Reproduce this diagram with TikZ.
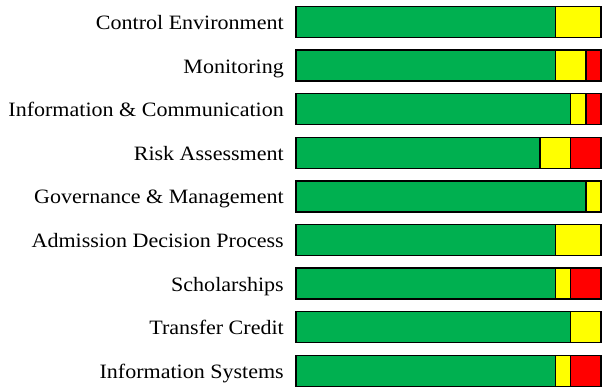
\documentclass[tikz,border=0pt]{standalone}
\usepackage{fontspec}
\setmainfont[FakeStretch=1.08]{Liberation Serif}
\definecolor{verde}{RGB}{0,176,80}
\definecolor{amarillo}{RGB}{255,255,0}
\definecolor{rojo}{RGB}{255,0,0}
\usepackage{tikz}

\begin{document}
\begin{tikzpicture}[x=1pt, y=-1pt,
    seg/.style={draw=black, line width=1.5pt},
    etiqueta/.style={anchor=base east, inner sep=0pt, font=\fontsize{20.4}{24}\selectfont}]
        \useasboundingbox (0,0) rectangle (603,388);

        % Control Environment
        \node[etiqueta] (ctrl) at (284,29.5) {Control Environment};
        \draw[seg, fill=verde] (296,6.5) rectangle (555.25,37.5);
        \draw[seg, fill=amarillo] (555.25,6.5) rectangle (601,37.5);

        % Monitoring
        \node[etiqueta] (moni) at (284,73.1) {Monitoring};
        \draw[seg, fill=verde] (296,50.1) rectangle (555.25,81.1);
        \draw[seg, fill=amarillo] (555.25,50.1) rectangle (585.75,81.1);
        \draw[seg, fill=rojo] (585.75,50.1) rectangle (601,81.1);

        % Information & Communication
        \node[etiqueta] (info) at (284,116.7) {Information \& Communication};
        \draw[seg, fill=verde] (296,93.7) rectangle (570.5,124.7);
        \draw[seg, fill=amarillo] (570.5,93.7) rectangle (585.75,124.7);
        \draw[seg, fill=rojo] (585.75,93.7) rectangle (601,124.7);

        % Risk Assessment
        \node[etiqueta] (risk) at (284,160.3) {Risk Assessment};
        \draw[seg, fill=verde] (296,137.3) rectangle (540,168.3);
        \draw[seg, fill=amarillo] (540,137.3) rectangle (570.5,168.3);
        \draw[seg, fill=rojo] (570.5,137.3) rectangle (601,168.3);

        % Governance & Management
        \node[etiqueta] (gov) at (284,203.9) {Governance \& Management};
        \draw[seg, fill=verde] (296,180.9) rectangle (585.75,211.9);
        \draw[seg, fill=amarillo] (585.75,180.9) rectangle (601,211.9);

        % Admission Decision Process
        \node[etiqueta] (adm) at (284,247.5) {Admission Decision Process};
        \draw[seg, fill=verde] (296,224.5) rectangle (555.25,255.5);
        \draw[seg, fill=amarillo] (555.25,224.5) rectangle (601,255.5);

        % Scholarships
        \node[etiqueta] (schol) at (284,291.1) {Scholarships};
        \draw[seg, fill=verde] (296,268.1) rectangle (555.25,299.1);
        \draw[seg, fill=amarillo] (555.25,268.1) rectangle (570.5,299.1);
        \draw[seg, fill=rojo] (570.5,268.1) rectangle (601,299.1);

        % Transfer Credit
        \node[etiqueta] (trans) at (284,334.7) {Transfer Credit};
        \draw[seg, fill=verde] (296,311.7) rectangle (570.5,342.7);
        \draw[seg, fill=amarillo] (570.5,311.7) rectangle (601,342.7);

        % Information Systems
        \node[etiqueta] (sys) at (284,378.3) {Information Systems};
        \draw[seg, fill=verde] (296,355.3) rectangle (555.25,386.3);
        \draw[seg, fill=amarillo] (555.25,355.3) rectangle (570.5,386.3);
        \draw[seg, fill=rojo] (570.5,355.3) rectangle (601,386.3);
    \end{tikzpicture}
\end{document}
